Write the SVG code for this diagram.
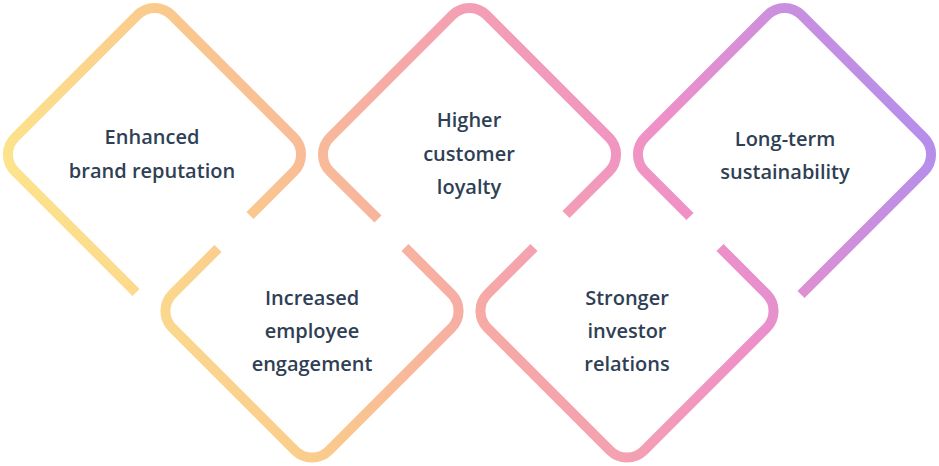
<svg xmlns="http://www.w3.org/2000/svg" width="939" height="466" viewBox="0 0 939 466">
<defs>
<linearGradient id="g" gradientUnits="userSpaceOnUse" x1="0" y1="420" x2="939" y2="60">
<stop offset="0" stop-color="#FDF08C"/>
<stop offset="0.3" stop-color="#FAC98D"/>
<stop offset="0.5" stop-color="#F6A8A8"/>
<stop offset="0.72" stop-color="#EF90C8"/>
<stop offset="1" stop-color="#AC8EF0"/>
</linearGradient>
</defs>
<style>
.s{fill:none;stroke:url(#g);stroke-width:10;stroke-linecap:butt;stroke-linejoin:round}
text{font-family:"Open Sans","Noto Sans",sans-serif;font-weight:600;font-size:20px;fill:#2F3F55;text-anchor:middle}
</style>
<g id="connectors"></g>
<g id="n1"><path class="s" d="M136,292.5 L15,171.5 A24 24 0 0 1 15,137.5 L137.5,15 A24 24 0 0 1 171.5,15 L294,137.5 A24 24 0 0 1 294,171.5 L250,215.5"/>
<text x="152" y="144">Enhanced</text><text x="152" y="178">brand reputation</text></g>
<g id="n2"><path class="s" d="M378,219 L330,171.5 A24 24 0 0 1 330,137.5 L452.5,15 A24 24 0 0 1 486.5,15 L609,137.5 A24 24 0 0 1 609,171.5 L566,214.5"/>
<text x="469" y="127">Higher</text><text x="469" y="161">customer</text><text x="469" y="194">loyalty</text></g>
<g id="n3"><path class="s" d="M690,216.5 L645,171.5 A24 24 0 0 1 645,137.5 L767.5,15 A24 24 0 0 1 801.5,15 L924,137.5 A24 24 0 0 1 924,171.5 L801,294.5"/>
<text x="785" y="146">Long-term</text><text x="785" y="179">sustainability</text></g>
<g id="n4"><path class="s" d="M218,248.5 L172.5,294 A24 24 0 0 0 172.5,328 L295,450.5 A24 24 0 0 0 329,450.5 L451.5,328 A24 24 0 0 0 451.5,294 L405,247.5"/>
<text x="312" y="305">Increased</text><text x="312" y="338">employee</text><text x="312" y="371">engagement</text></g>
<g id="n5"><path class="s" d="M534,247.5 L487.5,294 A24 24 0 0 0 487.5,328 L610,450.5 A24 24 0 0 0 644,450.5 L766.5,328 A24 24 0 0 0 766.5,294 L720,247.5"/>
<text x="627" y="305">Stronger</text><text x="627" y="338">investor</text><text x="627" y="371">relations</text></g>
</svg>
